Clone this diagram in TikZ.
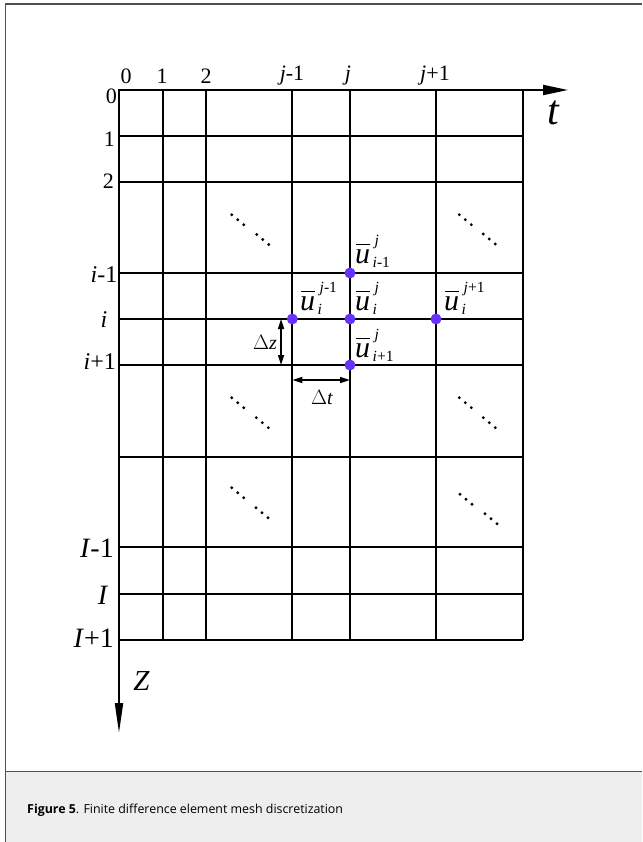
\documentclass[tikz,border=0pt]{standalone}
\usepackage{fontspec}
\setmainfont{Liberation Serif}
\newfontfamily\capfont{Open Sans}
\usetikzlibrary{arrows.meta}
\definecolor{dotc}{RGB}{102,51,255}
\definecolor{capbg}{RGB}{238,238,238}
\definecolor{framec}{RGB}{80,80,80}
\newcommand\ub{\makebox[0pt][l]{\kern0.04em\rule[0.6em]{0.46em}{0.05em}}\textit{u}}
\newcommand\uu[2]{\ub\kern2.5pt\makebox[0pt][l]{\kern2pt\raisebox{17.5pt}{\fontsize{15.5}{15.5}\selectfont #1}}\raisebox{-4pt}{\fontsize{15.5}{15.5}\selectfont #2}}
\newcommand\dgroup[2]{\foreach \k in {0,1,2} \fill ({#1+6*\k},{#2+5*\k}) circle (1.6pt);}
\begin{document}
\begin{tikzpicture}[x=1pt,y=-1pt,
  gridline/.style={line width=2pt},
  dotn/.style={circle,fill=dotc,inner sep=0pt,minimum size=11pt},
  dimarrow/.style={line width=1.6pt,{Triangle[length=10pt,width=6pt]}-{Triangle[length=10pt,width=6pt]}},
  lab/.style={inner sep=0pt},
  toplab/.style={lab,font=\fontsize{22}{22}\selectfont},
  ulab/.style={lab,anchor=base west,font=\fontsize{30}{30}\selectfont}]
\useasboundingbox (0,0) rectangle (642,842);
% frame and caption
\fill[capbg] (5.7,771.7) rectangle (642,842);
\draw[framec,line width=1.5pt] (5.7,842) -- (5.7,4) -- (642,4);
\draw[framec,line width=1.5pt] (5.7,771.7) -- (642,771.7);
\node[anchor=base west,inner sep=0pt,font=\capfont\fontsize{12.4}{15}\selectfont] (cap) at (27,813) {\textbf{Figure 5}. Finite difference element mesh discretization};
% grid
\foreach \y in {136,182,273,319,365,457,547,594,640} \draw[gridline] (119,\y) -- (522.7,\y);
\foreach \x in {162.7,206,292.3,350,436,522.7} \draw[gridline] (\x,90) -- (\x,640);
% axes
\coordinate (o) at (119,90);
\coordinate (tend) at (568,90);
\coordinate (zend) at (119,733);
\draw[gridline,-{Triangle[length=25pt,width=10pt]}] ([xshift=-1pt]o) -- (tend);
\draw[gridline,-{Triangle[length=30pt,width=8pt]}] ([yshift=1pt]o) -- (zend);
\node[lab,font=\fontsize{42}{42}\selectfont\itshape] (tl) at (553,113) {t};
\node[lab,font=\fontsize{29}{29}\selectfont\itshape] (zl) at (141.5,681) {Z};
% top labels
\node[toplab] (c0) at (126,76) {0};
\node[toplab] (c1) at (162,76) {1};
\node[toplab] (c2) at (206,76) {2};
\node[toplab] (cj1) at (292,76) {\textit{j}-1};
\node[toplab] (cj) at (348,76) {\textit{j}};
\node[toplab] (cj2) at (435,76) {\textit{j}+1};
% left labels
\node[toplab,anchor=east] (r0) at (117,96) {0};
\node[toplab,anchor=east] (r1) at (115,139) {1};
\node[toplab,anchor=east] (r2) at (114,181) {2};
\node[lab,anchor=east,font=\fontsize{24}{24}\selectfont] (ri1) at (117.5,275) {\textit{i}-1};
\node[lab,font=\fontsize{24}{24}\selectfont] (ri) at (104,320) {\textit{i}};
\node[lab,anchor=east,font=\fontsize{24}{24}\selectfont] (ri2) at (116,362) {\textit{i}+1};
\node[lab,anchor=east,font=\fontsize{28}{28}\selectfont] (rI1) at (114,548) {\textit{I}-1};
\node[lab,font=\fontsize{28}{28}\selectfont] (rI) at (103,595) {\textit{I}};
\node[lab,anchor=east,font=\fontsize{28}{28}\selectfont] (rI2) at (114,638) {\textit{I}+1};
% ellipsis dots
\dgroup{231.7}{214.7}\dgroup{256.7}{234.5}
\dgroup{459.3}{214.7}\dgroup{483.3}{234}
\dgroup{231.7}{397.7}\dgroup{256.3}{417.7}
\dgroup{459.3}{397.7}\dgroup{483.3}{417.7}
\dgroup{231.7}{487.7}\dgroup{256}{507.7}
\dgroup{460}{494.3}\dgroup{485}{513.7}
% dimension arrows
\coordinate (dz1) at (281,319);
\coordinate (dz2) at (281,365);
\draw[dimarrow] (dz1) -- (dz2);
\node[lab,font=\fontsize{20}{20}\selectfont] (dzl) at (265,342) {$\Delta$\textit{z}};
\coordinate (dt1) at (292.3,380);
\coordinate (dt2) at (350,380);
\draw[dimarrow] (dt1) -- (dt2);
\node[lab,font=\fontsize{20}{20}\selectfont] (dtl) at (322,398) {$\Delta$\textit{t}};
% points
\node[dotn] (up) at (350,273) {};
\node[dotn] (left) at (292.3,319) {};
\node[dotn] (mid) at (350,319) {};
\node[dotn] (right) at (436,319) {};
\node[dotn] (down) at (350,365) {};
% point labels
\node[ulab] (lup) at (355,263) {\uu{\textit{j}}{\textit{i}-1}};
\node[ulab] (lleft) at (300,310) {\uu{\textit{j}-1}{\textit{i}}};
\node[ulab] (lmid) at (355,310) {\uu{\textit{j}}{\textit{i}}};
\node[ulab] (lright) at (444,310) {\uu{\textit{j}+1}{\textit{i}}};
\node[ulab] (ldown) at (355,357) {\uu{\textit{j}}{\textit{i}+1}};
\end{tikzpicture}
\end{document}
